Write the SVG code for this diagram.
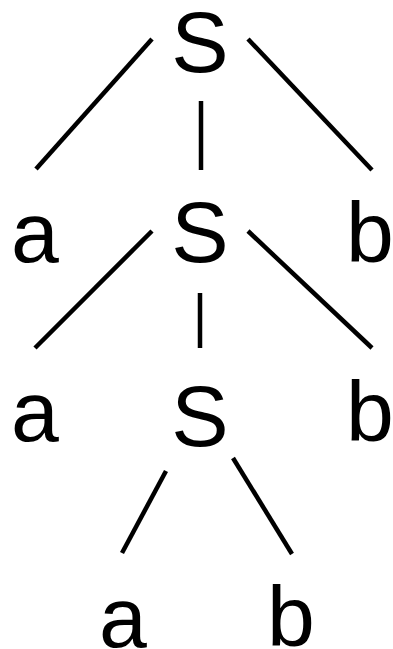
<svg xmlns="http://www.w3.org/2000/svg" width="393" height="649" viewBox="0 0 393 649">
<style>
.t{font-family:"Liberation Sans",Arial,sans-serif;font-size:86px;fill:#000}
.c{text-anchor:middle}
.e{stroke:#000;stroke-width:4.5;fill:none}
</style>
<rect width="393" height="649" fill="#fff"/>
<g id="connectors">
<line class="e" x1="152" y1="39" x2="36" y2="169"/>
<line class="e" x1="201" y1="101" x2="201" y2="170"/>
<line class="e" x1="248" y1="39" x2="372" y2="170"/>
<line class="e" x1="152" y1="231" x2="35" y2="348"/>
<line class="e" x1="200" y1="293" x2="200" y2="348"/>
<line class="e" x1="248" y1="231" x2="372" y2="348"/>
<line class="e" x1="166" y1="471" x2="122" y2="553"/>
<line class="e" x1="233" y1="458" x2="292" y2="554"/>
</g>
<g id="S1"><text class="t c" x="200" y="72">S</text></g>
<g id="a1"><text class="t" x="11" y="262">a</text></g>
<g id="S2"><text class="t c" x="200" y="262">S</text></g>
<g id="b1"><text class="t" x="346" y="262">b</text></g>
<g id="a2"><text class="t" x="11" y="441">a</text></g>
<g id="S3"><text class="t c" x="200" y="446">S</text></g>
<g id="b2"><text class="t" x="346" y="441">b</text></g>
<g id="a3"><text class="t" x="99" y="647">a</text></g>
<g id="b3"><text class="t" x="267" y="646">b</text></g>
</svg>
